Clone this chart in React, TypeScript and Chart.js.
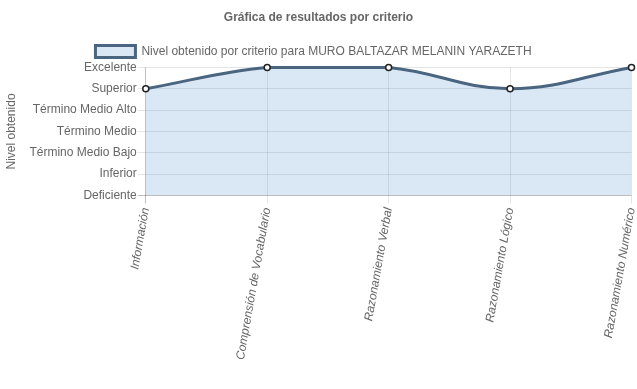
import React, { useEffect, useRef } from "react";
import { Chart, registerables } from "chart.js";

Chart.register(...registerables);

const criteria = [
  "Información",
  "Comprensión de Vocabulario",
  "Razonamiento Verbal",
  "Razonamiento Lógico",
  "Razonamiento Numérico",
];
const levels = [
  "Deficiente",
  "Inferior",
  "Término Medio Bajo",
  "Término Medio",
  "Término Medio Alto",
  "Superior",
  "Excelente",
];
const obtained = ["Superior", "Excelente", "Excelente", "Superior", "Excelente"];
const seriesLabel = "Nivel obtenido por criterio para MURO BALTAZAR MELANIN YARAZETH";
const chartTitle = "Gráfica de resultados por criterio";
const yTitle = "Nivel obtenido";

const legendShift = {
  id: "legendShift",
  afterLayout(chart: any) {
    if (chart.legend) {
      chart.legend.left -= 5;
      chart.legend.right -= 5;
    }
  },
};

export default function App() {
  const ref = useRef<HTMLCanvasElement>(null);
  useEffect(() => {
    document.body.style.margin = "0";
    Chart.defaults.font.family = "'Liberation Sans', Arial, sans-serif";
    Chart.defaults.font.size = 12;
    Chart.defaults.color = "#666";
    const values = obtained.map((l) => levels.indexOf(l));
    const chart = new Chart(ref.current!, {
      type: "line",
      plugins: [legendShift],
      data: {
        labels: criteria,
        datasets: [
          {
            label: seriesLabel,
            data: values,
            fill: true,
            clip: false,
            backgroundColor: "rgba(60,130,200,0.19)",
            borderColor: "rgb(74,101,128)",
            borderWidth: 3,
            tension: 0.4,
            pointRadius: 3,
            pointBorderWidth: 1.5,
            pointBackgroundColor: "#fff",
            pointBorderColor: "#222",
          },
        ],
      },
      options: {
        animation: false,
        responsive: false,
        layout: { padding: { bottom: 25 } },
        plugins: {
          title: {
            display: true,
            text: chartTitle,
            font: { weight: "bold", size: 12 },
            color: "#666",
            padding: { top: 10, bottom: 11 },
          },
          legend: {
            labels: { boxWidth: 40, boxHeight: 12, color: "#666" },
          },
          tooltip: { enabled: false },
        },
        scales: {
          x: {
            afterFit: (s: any) => {
              s.paddingRight = 4;
            },
            grid: {
              color: (c: any) => (c.index === 0 ? "rgba(0,0,0,0.25)" : "rgba(0,0,0,0.1)"),
              tickLength: 8,
            },
            border: { display: false },
            ticks: {
              minRotation: 80,
              maxRotation: 80,
              font: { style: "italic" },
              color: "#666",
            },
          },
          y: {
            min: 0,
            max: 6,
            grid: {
              color: (c: any) => (c.index === 0 ? "rgba(0,0,0,0.25)" : "rgba(0,0,0,0.1)"),
              tickLength: 8,
            },
            border: { display: false },
            ticks: {
              stepSize: 1,
              color: "#666",
              padding: 1,
              callback: (v: any) => levels[v as number] ?? "",
            },
            title: { display: true, text: yTitle, color: "#666", padding: { top: 4, bottom: 10 } },
          },
        },
      },
    });
    return () => chart.destroy();
  }, []);
  return <canvas ref={ref} width={637} height={389} style={{ display: "block" }} />;
}
